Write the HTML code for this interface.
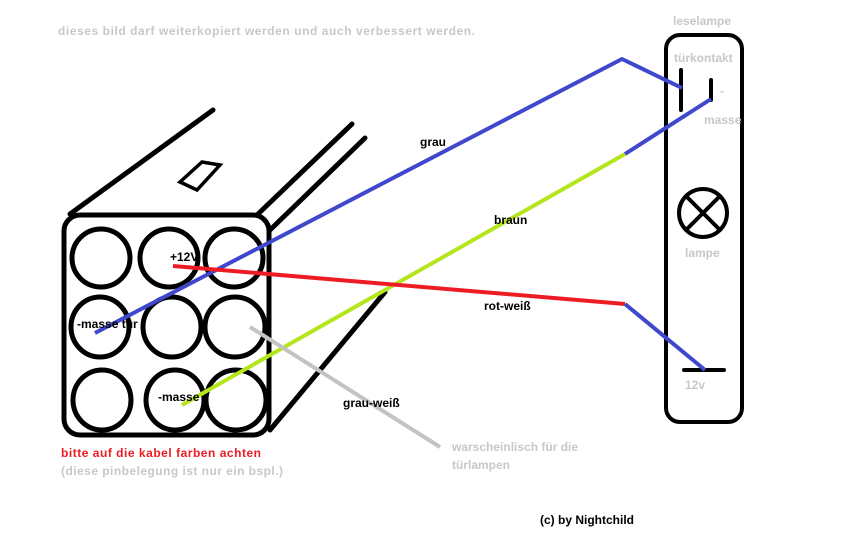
<!DOCTYPE html>
<html><head><meta charset="utf-8"><style>
html,body{margin:0;padding:0;background:#fff;}
svg{display:block;}
text{font-family:"Liberation Sans",sans-serif;font-weight:bold;font-size:12px;}
.g{fill:#c8c8c8;}
</style></head><body>
<svg width="864" height="540" viewBox="0 0 864 540" xmlns="http://www.w3.org/2000/svg">
<rect width="864" height="540" fill="#fff"/>
<g stroke="#000" stroke-width="5" fill="none" stroke-linecap="round">
  <line x1="70" y1="214" x2="213" y2="110"/>
  <line x1="258" y1="214" x2="352" y2="124"/>
  <line x1="270" y1="230" x2="365" y2="138"/>
  <line x1="270" y1="430" x2="385" y2="292"/>
  <polygon points="180,182 202,162 220,165 197,190" stroke-width="3.5"/>
  <rect x="64" y="215" width="205" height="220" rx="16"/>
  <ellipse cx="101" cy="258" rx="29" ry="29"/>
  <ellipse cx="169" cy="258" rx="29" ry="29"/>
  <ellipse cx="234" cy="258" rx="29" ry="29"/>
  <ellipse cx="100" cy="327" rx="29" ry="30"/>
  <ellipse cx="172" cy="327" rx="29" ry="30"/>
  <ellipse cx="235" cy="327" rx="30" ry="30"/>
  <ellipse cx="102" cy="400" rx="29" ry="30"/>
  <ellipse cx="175" cy="400" rx="29" ry="30"/>
  <ellipse cx="236" cy="400" rx="30" ry="30"/>
  <rect x="666" y="35" width="76" height="387" rx="14" stroke-width="4"/>
  <line x1="681" y1="70" x2="681" y2="110" stroke-width="4"/>
  <line x1="711" y1="80" x2="711" y2="100" stroke-width="4"/>
  <circle cx="703" cy="213" r="24" stroke-width="4"/>
  <line x1="686" y1="196" x2="720" y2="230" stroke-width="4"/>
  <line x1="720" y1="196" x2="686" y2="230" stroke-width="4"/>
  <line x1="684" y1="370" x2="724" y2="370" stroke-width="4"/>
</g>
<g stroke-width="4" fill="none" stroke-linejoin="round">
  <polyline points="95,333 622,59 682,88" stroke="#3f48cc"/>
  <line x1="182" y1="405" x2="625" y2="154" stroke="#b5e61d"/>
  <line x1="625" y1="154" x2="711" y2="99" stroke="#3f48cc"/>
  <line x1="173" y1="266" x2="625" y2="304" stroke="#ed1c24"/>
  <line x1="625" y1="304" x2="705" y2="370" stroke="#3f48cc"/>
  <line x1="250" y1="327" x2="440" y2="447" stroke="#c3c3c3"/>
</g>
<text class="g" x="58" y="35" textLength="417">dieses bild darf weiterkopiert werden und auch verbessert werden.</text>
<text class="g" x="673" y="25">leselampe</text>
<text class="g" x="674" y="62">türkontakt</text>
<text class="g" x="720" y="95">-</text>
<text class="g" x="704" y="124">masse</text>
<text class="g" x="685" y="257">lampe</text>
<text class="g" x="685" y="389">12v</text>
<text x="420" y="146">grau</text>
<text x="494" y="224">braun</text>
<text x="484" y="310">rot-weiß</text>
<text x="343" y="407">grau-weiß</text>
<text x="170" y="261">+12V</text>
<text x="77" y="328">-masse tür</text>
<text x="158" y="401">-masse</text>
<text x="61" y="457" fill="#ed1c24" textLength="200">bitte auf die kabel farben achten</text>
<text class="g" x="61" y="475" textLength="222">(diese pinbelegung ist nur ein bspl.)</text>
<text class="g" x="452" y="451">warscheinlisch für die</text>
<text class="g" x="452" y="469">türlampen</text>
<text x="540" y="524">(c) by Nightchild</text>
</svg>
</body></html>
